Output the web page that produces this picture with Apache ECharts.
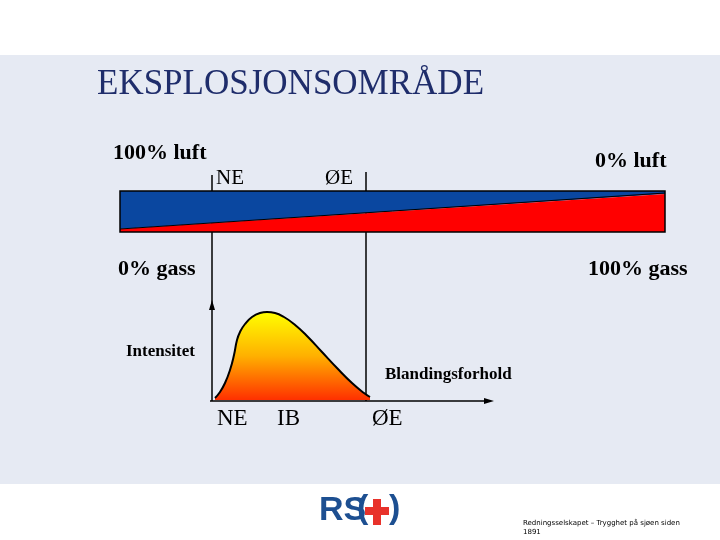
<!DOCTYPE html>
<html><head><meta charset="utf-8">
<script src="https://cdn.jsdelivr.net/npm/echarts@6/dist/echarts.min.js"></script>
<style>html,body{margin:0;padding:0;background:#fff}#c{width:720px;height:540px}</style>
</head><body><div id="c"></div>
<script>
// Mixture ratio (px offset from NE) vs intensity
const mixX = [3, 8, 13, 18, 22, 25, 28, 33, 40, 48, 55, 63, 72, 82, 95, 110, 125, 140, 152, 158];
const intensity = [2, 8, 17, 30, 45, 60, 68, 76, 83, 87, 88, 87, 83, 76, 64, 48, 32, 17, 7, 3];
const serif = '"Liberation Serif", "DejaVu Serif", serif';
const logoFont = 'bold 34px "Liberation Sans Narrow", "Liberation Sans", sans-serif';
const chart = echarts.init(document.getElementById('c'));
const txt = (x, y, t, size, bold, color) => ({type:'text', z:20, x, y, style:{text:t, fill:color||'#000', font:(bold?'bold ':'')+size+'px '+serif}});
chart.setOption({
  animation:false,
  grid:{left:212, top:300, width:280, height:100},
  xAxis:{type:'value', min:0, max:280, axisLine:{show:false}, axisTick:{show:false}, axisLabel:{show:false}, splitLine:{show:false}},
  yAxis:{type:'value', min:0, max:100, axisLine:{show:false}, axisTick:{show:false}, axisLabel:{show:false}, splitLine:{show:false}},
  graphic:[
    {type:'rect', z:-10, shape:{x:0,y:55,width:720,height:429}, style:{fill:'#e6eaf3'}},
    txt(97,67,'EKSPLOSJONSOMRÅDE',35,false,'#1f2d6b'),
    txt(113,142,'100% luft',22,true),
    txt(216,168,'NE',21,false),
    txt(325,168,'ØE',21,false),
    txt(595,150,'0% luft',22,true),
    txt(118,258,'0% gass',22,true),
    txt(588,258,'100% gass',22,true),
    txt(126,343,'Intensitet',17,true),
    txt(385,366,'Blandingsforhold',17,true),
    txt(217,407,'NE',23,false),
    txt(277,407,'IB',23,false),
    txt(372,407,'ØE',23,false),
    {type:'line', z:1, shape:{x1:212,y1:175,x2:212,y2:401}, style:{stroke:'#000',lineWidth:1.5}},
    {type:'line', z:1, shape:{x1:366,y1:172,x2:366,y2:401}, style:{stroke:'#000',lineWidth:1.5}},
    {type:'polygon', z:5, shape:{points:[[120,191],[665,191],[665,194],[120,229]]}, style:{fill:'#0a47a0'}},
    {type:'polygon', z:5, shape:{points:[[120,229],[665,194],[665,232],[120,232]]}, style:{fill:'#ff0000'}},
    {type:'line', z:6, shape:{x1:120,y1:229,x2:665,y2:193}, style:{stroke:'#000',lineWidth:1}},
    {type:'rect', z:6, shape:{x:120,y:191,width:545,height:41}, style:{fill:'none',stroke:'#000',lineWidth:1.5}},
    {type:'polygon', z:10, shape:{points:[[212,300],[209,310],[215,310]]}, style:{fill:'#000'}},
    {type:'line', z:10, shape:{x1:210,y1:401,x2:486,y2:401}, style:{stroke:'#000',lineWidth:1.5}},
    {type:'polygon', z:10, shape:{points:[[494,401],[484,398],[484,404]]}, style:{fill:'#000'}},
    {type:'text', x:319, y:494, style:{text:'RS', fill:'#1d4f91', font:logoFont}},
    {type:'text', x:357, y:492, style:{text:'(', fill:'#1d4f91', font:logoFont}},
    {type:'rect', shape:{x:373,y:499,width:8,height:26}, style:{fill:'#e8322b'}},
    {type:'rect', shape:{x:365,y:507,width:24,height:8}, style:{fill:'#e8322b'}},
    {type:'text', x:389, y:492, style:{text:')', fill:'#1d4f91', font:logoFont}},
    {type:'text', x:523, y:519, style:{text:'Redningsselskapet – Trygghet på sjøen siden\n1891', fill:'#000', font:'7px "DejaVu Sans", sans-serif', lineHeight:9}}
  ],
  series:[{
    type:'line', smooth:true, symbol:'none', z:8,
    data: mixX.map((x,i)=>[x,intensity[i]]),
    lineStyle:{color:'#000', width:2},
    areaStyle:{opacity:1, color:new echarts.graphic.LinearGradient(0,0,0,1,[{offset:0,color:'#ffff00'},{offset:0.5,color:'#ffb000'},{offset:1,color:'#ff3000'}])}
  }]
});
</script></body></html>
